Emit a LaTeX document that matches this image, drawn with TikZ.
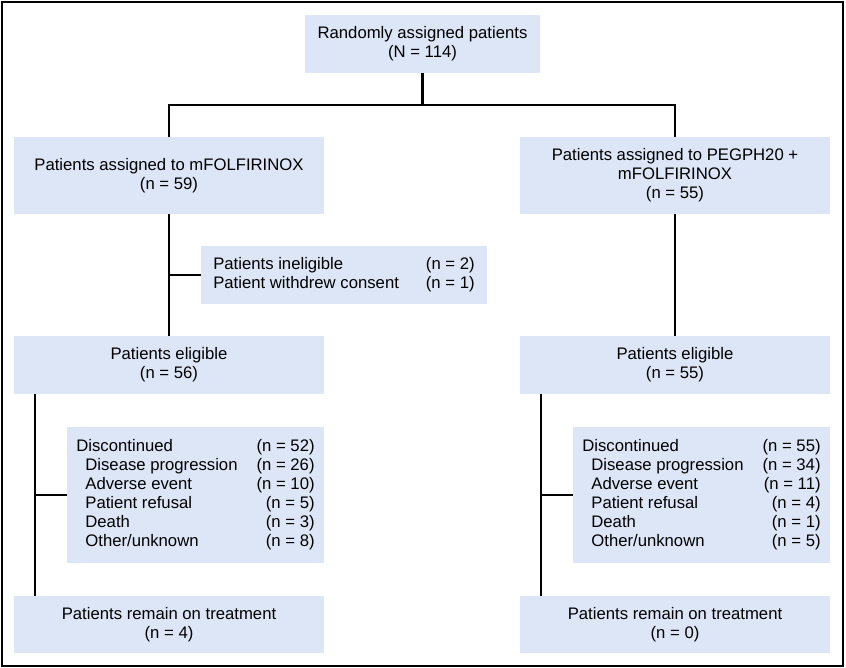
\documentclass[tikz,border=0pt]{standalone}
\usepackage{fontspec}
\setmainfont{Liberation Sans}
\usepackage{tikz}
\usetikzlibrary{calc}
\definecolor{boxfill}{RGB}{220,230,246}

\begin{document}
\begin{tikzpicture}[x=1pt,y=-1pt,
    flowbox/.style={fill=boxfill,inner sep=0pt,align=center,
        font=\fontsize{16.7}{19}\selectfont,minimum height=58pt},
    wide/.style={minimum width=310pt},
    link/.style={draw=black,line width=2.4pt}]
    \useasboundingbox (0,0) rectangle (846,668);
    \draw[line width=1.4pt] (2,2) rectangle (843,666);

    \node[flowbox,minimum width=235pt] (rand) at (422.5,44)
        {Randomly assigned patients\\(N = 114)};
    \node[flowbox,wide,minimum height=77pt] (armA) at (169,175.5)
        {Patients assigned to mFOLFIRINOX\\(n = 59)};
    \node[flowbox,wide,minimum height=77pt] (armB) at (675,175.5)
        {Patients assigned to PEGPH20 +\\mFOLFIRINOX\\(n = 55)};
    \node[flowbox,minimum width=286pt] (excl) at (344,275)
        {\begin{tabular}{@{}l@{\hspace{27pt}}l@{}}
            Patients ineligible & (n = 2)\\
            Patient withdrew consent & (n = 1)
        \end{tabular}};
    \node[flowbox,wide] (eligA) at (169,365) {Patients eligible\\(n = 56)};
    \node[flowbox,wide] (eligB) at (675,365) {Patients eligible\\(n = 55)};
    \node[flowbox,minimum width=257pt,minimum height=136pt] (discA) at (195.5,495)
        {\begin{tabular}{@{}l@{\hspace{19pt}}r@{}}
            Discontinued & (n = 52)\\
            \hspace{9pt}Disease progression & (n = 26)\\
            \hspace{9pt}Adverse event & (n = 10)\\
            \hspace{9pt}Patient refusal & (n = 5)\\
            \hspace{9pt}Death & (n = 3)\\
            \hspace{9pt}Other/unknown & (n = 8)
        \end{tabular}};
    \node[flowbox,minimum width=257pt,minimum height=136pt] (discB) at (701.5,495)
        {\begin{tabular}{@{}l@{\hspace{19pt}}r@{}}
            Discontinued & (n = 55)\\
            \hspace{9pt}Disease progression & (n = 34)\\
            \hspace{9pt}Adverse event & (n = 11)\\
            \hspace{9pt}Patient refusal & (n = 4)\\
            \hspace{9pt}Death & (n = 1)\\
            \hspace{9pt}Other/unknown & (n = 5)
        \end{tabular}};
    \node[flowbox,wide,minimum height=57pt] (remA) at (169,624.5)
        {Patients remain on treatment\\(n = 4)};
    \node[flowbox,wide,minimum height=57pt] (remB) at (675,624.5)
        {Patients remain on treatment\\(n = 0)};

    \coordinate (split) at ($(rand.south)+(0,32)$);
    \draw[link] (rand.south) -- (split);
    \draw[link] (armA.north) |- (split) -| (armB.north);
    \draw[link] (armA.south) -- (eligA.north);
    \draw[link] (armB.south) -- (eligB.north);
    \draw[link] (excl.west) -- (excl.west -| armA.south);
    \draw[link] ([xshift=21pt]eligA.south west) -- ([xshift=21pt]remA.north west);
    \draw[link] ([xshift=21pt]eligB.south west) -- ([xshift=21pt]remB.north west);
    \draw[link] (discA.west) -- ([xshift=21pt]discA.west -| eligA.south west);
    \draw[link] (discB.west) -- ([xshift=21pt]discB.west -| eligB.south west);
\end{tikzpicture}
\end{document}
